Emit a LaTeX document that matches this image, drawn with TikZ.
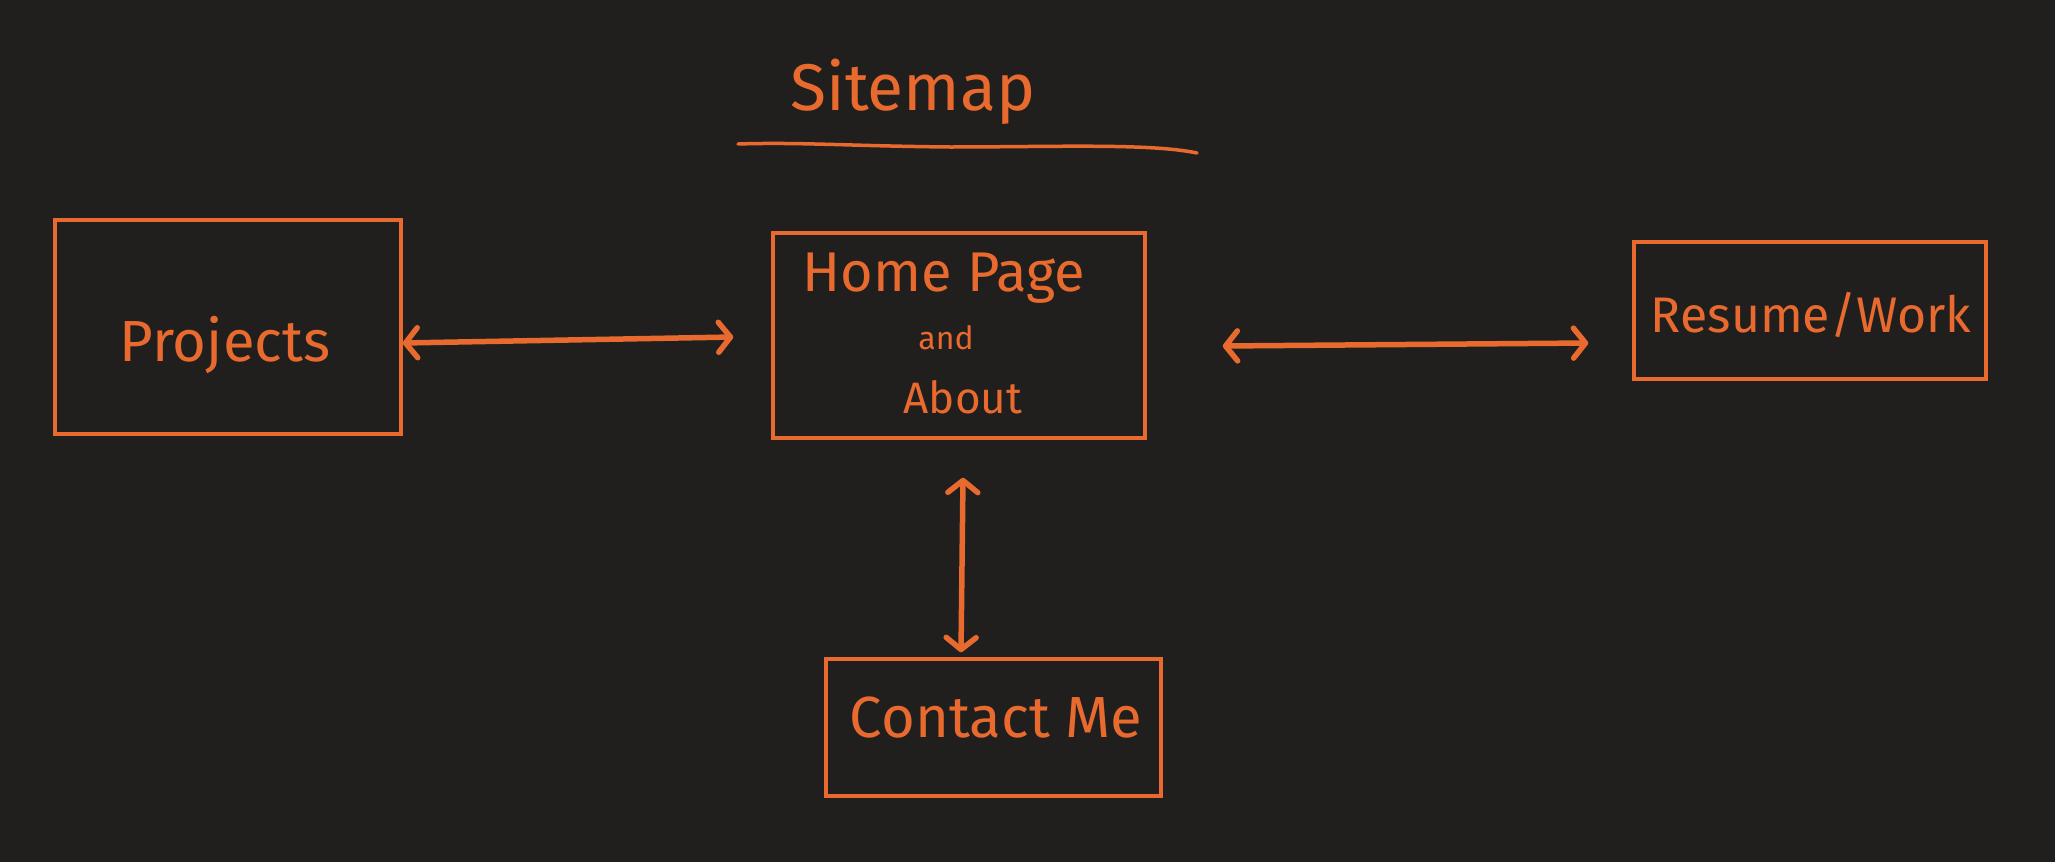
\documentclass[tikz,border=0pt]{standalone}
\usepackage{fontspec}
\setmainfont{Fira Sans}
\usetikzlibrary{calc,arrows.meta}
\definecolor{bg}{HTML}{201F1E}
\definecolor{ink}{HTML}{E86A2E}
\tikzset{
  page/.style={draw=ink, line width=3.5pt, inner sep=0pt},
  txt/.style={text=ink, inner sep=0pt},
  link/.style={draw=ink, line width=5.5pt, line cap=round, {Straight Barb[length=12pt,width=30pt,round]}-{Straight Barb[length=12pt,width=30pt,round]}},
}
\newcommand{\fs}[1]{\fontsize{#1}{#1}\selectfont}
\begin{document}
\begin{tikzpicture}[x=1pt,y=-1pt]
\fill[bg] (0,0) rectangle (2055,862);
\useasboundingbox (0,0) rectangle (2055,862);
% boxes
\node[page, minimum width=346pt, minimum height=214pt] (proj) at (228,327) {};
\node[page, minimum width=372pt, minimum height=205pt] (home) at (959,335.5) {};
\node[page, minimum width=352pt, minimum height=137pt] (res) at (1810,310.5) {};
\node[page, minimum width=335pt, minimum height=137pt] (cont) at (993.5,727.5) {};
% texts
\node[txt, font=\fs{66}] (title) at (913,92) {Sitemap};
\node[txt, font=\fs{58}] (t1) at (225,345) {Projects};
\node[txt, font=\fs{56}] (t2) at (944,278) {Home Page};
\node[txt, font=\fs{32}] (t3) at (946,338) {and};
\node[txt, font=\fs{44}] (t4) at (963,397) {About};
\node[txt, font=\fs{50}] (t5) at (1811,315) {Resume/Work};
\node[txt, font=\fs{58}] (t6) at (996,718) {Contact Me};
% underline
\coordinate (u1) at (738,144);
\coordinate (u2) at (1197,153);
\draw[draw=ink, line width=3.5pt, line cap=round] (u1) .. controls (800,142) and (850,146) .. (950,147) .. controls (1050,147) and (1150,143) .. (u2);
% connectors
\draw[link] ($(proj.east)+(0,16)$) -- ($(home.west)+(-38,1.5)$);
\draw[link] ($(home.east)+(76,10.5)$) -- ($(res.west)+(-44,32.5)$);
\draw[link] ($(home.south)+(4,38)$) -- ($(cont.north)+(-32.5,-5)$);
\end{tikzpicture}
\end{document}
